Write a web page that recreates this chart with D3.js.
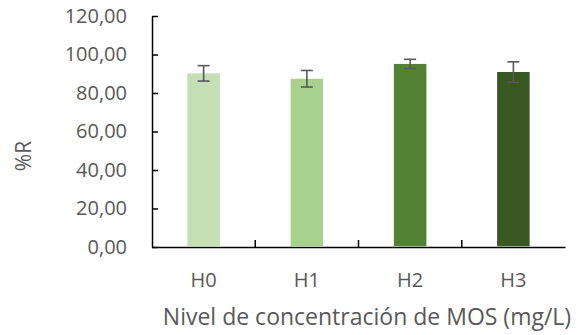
<!DOCTYPE html>
<html><head><meta charset="utf-8">
<script src="https://cdn.jsdelivr.net/npm/d3@7"></script>
<style>body{margin:0;background:#fff}svg{display:block}</style>
</head><body>
<script>
const categories = ["H0","H1","H2","H3"];
const values = [90.2, 87.4, 95.1, 90.9];
const errors = [4.0, 4.3, 2.4, 5.3];
const colors = ["#c5e0b4","#a9d18e","#548235","#385723"];
const yTicks = [0,20,40,60,80,100,120];
const yTitle = "%R";
const xTitle = "Nivel de concentración de MOS (mg/L)";

const W=579,H=335;
const m={left:152,right:14,top:16,bottom:88};
const svg=d3.select("body").append("svg").attr("width",W).attr("height",H);
const font="'Open Sans', sans-serif";
const x=d3.scaleBand().domain(categories).range([m.left,W-m.right]).paddingInner(0.685).paddingOuter(0.685/2);
const y=d3.scaleLinear().domain([0,120]).range([H-m.bottom,m.top]);
const fmt=v=>d3.format(".2f")(v).replace(".",",");

const yAxis=svg.append("g").attr("transform",`translate(${m.left},0)`)
 .call(d3.axisLeft(y).tickValues(yTicks).tickFormat(fmt).tickSizeInner(-6).tickSizeOuter(0).tickPadding(25));
yAxis.select(".domain").attr("stroke","#000").attr("stroke-width",1.5);
yAxis.selectAll(".tick line").attr("stroke","#000").attr("stroke-width",1.5);
yAxis.selectAll("text").attr("font-family",font).attr("font-size",20).attr("fill","#595959");

const xAxis=svg.append("g").attr("transform",`translate(0,${H-m.bottom})`)
 .call(d3.axisBottom(x).tickSize(0).tickPadding(26));
xAxis.select(".domain").attr("stroke","#000").attr("stroke-width",1.5);
xAxis.selectAll("text").attr("font-family",font).attr("font-size",20).attr("fill","#595959");
// boundary ticks between categories (inside)
const bounds=d3.range(1,categories.length).map(i=>m.left+i*(W-m.right-m.left)/categories.length);
svg.append("g").selectAll("line").data(bounds).join("line")
 .attr("x1",d=>d).attr("x2",d=>d).attr("y1",y(0)).attr("y2",y(0)-7)
 .attr("stroke","#000").attr("stroke-width",1.5);

svg.append("g").selectAll("rect").data(categories).join("rect")
 .attr("x",d=>x(d)).attr("width",x.bandwidth())
 .attr("y",(d,i)=>y(values[i])).attr("height",(d,i)=>y(0)-y(values[i])-0.75)
 .attr("fill",(d,i)=>colors[i]);

const eb=svg.append("g").attr("stroke","#595959").attr("stroke-width",1.6);
categories.forEach((c,i)=>{
 const cx=x(c)+x.bandwidth()/2;
 const t=y(values[i]+errors[i]), b=y(values[i]-errors[i]);
 eb.append("line").attr("x1",cx).attr("x2",cx).attr("y1",t).attr("y2",b);
 eb.append("line").attr("x1",cx-6).attr("x2",cx+6).attr("y1",t).attr("y2",t);
 eb.append("line").attr("x1",cx-6).attr("x2",cx+6).attr("y1",b).attr("y2",b);
});

svg.append("text").attr("transform",`translate(31,156) rotate(-90)`)
 .attr("text-anchor","middle").attr("font-family",font).attr("font-size",21).attr("fill","#595959").text(yTitle);
svg.append("text").attr("x",367).attr("y",325).attr("text-anchor","middle")
 .attr("font-family",font).attr("font-size",23).attr("fill","#595959").text(xTitle);
</script>
</body></html>
